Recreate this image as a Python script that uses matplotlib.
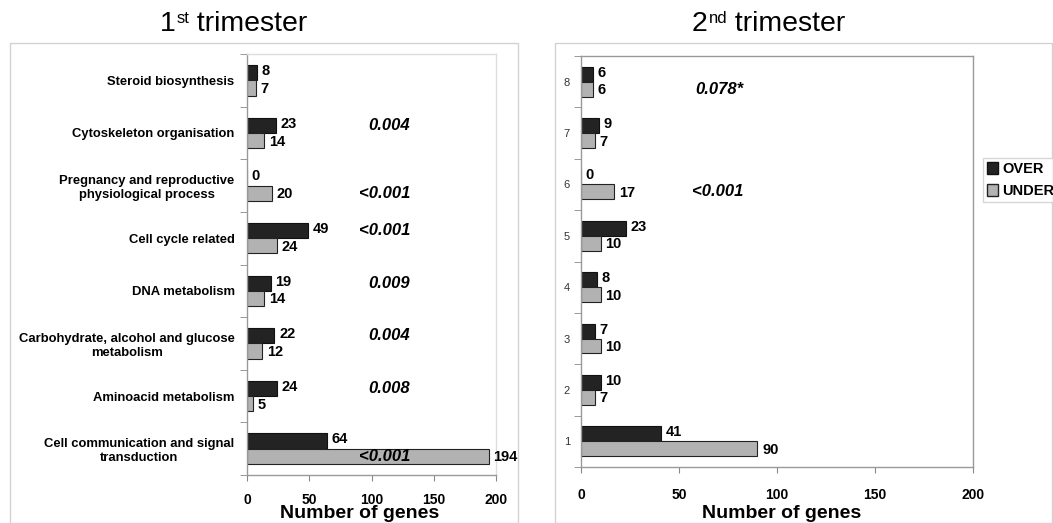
import numpy as np
import matplotlib
matplotlib.use("Agg")
import matplotlib.pyplot as plt
from matplotlib.patches import Rectangle, Patch

# data, listed bottom to top
categories_1 = ["Cell communication and signal\ntransduction",
                "Aminoacid metabolism",
                "Carbohydrate, alcohol and glucose\nmetabolism",
                "DNA metabolism",
                "Cell cycle related",
                "Pregnancy and reproductive\nphysiological process",
                "Cytoskeleton organisation",
                "Steroid biosynthesis"]
over_1 = [64, 24, 22, 19, 49, 0, 23, 8]
under_1 = [194, 5, 12, 14, 24, 20, 14, 7]
pvals_1 = ["<0.001", "0.008", "0.004", "0.009", "<0.001", "<0.001", "0.004", ""]
# which bar row the p-value sits on: 1 = OVER row, 0 = UNDER row
prow_1 = [0, 1, 1, 1, 1, 0, 1, 1]

categories_2 = ["1", "2", "3", "4", "5", "6", "7", "8"]
over_2 = [41, 10, 7, 8, 23, 0, 9, 6]
under_2 = [90, 7, 10, 10, 10, 17, 7, 6]
pvals_2 = ["", "", "", "", "", "<0.001", "", "0.078*"]
prow_2 = [1, 1, 1, 1, 1, 0, 1, 0]

xticks = [0, 50, 100, 150, 200]

W, H = 1053, 523
DARK = "#232323"
LIGHT = "#b2b2b2"
NARROW = ['Liberation Sans Narrow', 'Liberation Sans', 'DejaVu Sans']
SANS = ['Liberation Sans', 'DejaVu Sans']

fig = plt.figure(figsize=(W / 100, H / 100), dpi=100)


def px_rect(x0, y0, x1, y1):
    return [x0 / W, 1 - y1 / H, (x1 - x0) / W, (y1 - y0) / H]


# light outer frames of the two pasted panels
for (x0, y0, x1, y1) in [(10, 43, 518, 523), (555, 43, 1052, 523)]:
    fig.patches.append(Rectangle((x0 / W, 1 - y1 / H), (x1 - x0) / W, (y1 - y0) / H,
                                 transform=fig.transFigure, fill=False,
                                 edgecolor="#d2d2d2", linewidth=1.0))


def draw_panel(ax, over, under, pvals, prow, p_x, labelpad_tick):
    y = np.arange(len(over))
    h = 0.29
    off = 0.145
    ax.barh(y + off, over, height=h, color=DARK, edgecolor="#111111", linewidth=0.8)
    ax.barh(y - off, under, height=h, color=LIGHT, edgecolor="#222222", linewidth=0.8)
    for i in range(len(over)):
        ax.annotate(str(over[i]), (over[i], y[i] + off + 0.03), xytext=(3.5, 0),
                    textcoords="offset points", ha="left", va="center",
                    fontsize=10.5, fontweight="bold", family=NARROW)
        ax.annotate(str(under[i]), (under[i], y[i] - off - 0.02), xytext=(3.5, 0),
                    textcoords="offset points", ha="left", va="center",
                    fontsize=10.5, fontweight="bold", family=NARROW)
        if pvals[i]:
            yy = y[i] + off if prow[i] else y[i] - off
            ax.text(p_x, yy, pvals[i], ha="right", va="center", fontsize=12,
                    fontweight="bold", style="italic", family=SANS)
    ax.set_xlim(0, 200)
    ax.set_ylim(-0.5, len(over) - 0.5)
    ax.set_xticks(xticks)
    ax.set_xticklabels([str(t) for t in xticks], fontsize=10, fontweight="bold", family=NARROW)
    ax.tick_params(axis="x", length=4, pad=labelpad_tick, color="#888888")
    ax.set_yticks(np.arange(-0.5, len(over), 1.0), minor=True)
    ax.tick_params(axis="y", which="minor", length=5, color="#888888")
    ax.tick_params(axis="y", which="major", length=0)
    for s in ax.spines.values():
        s.set_color("#999999")
        s.set_linewidth(1.0)


# left panel
ax1 = fig.add_axes(px_rect(247, 54, 496, 475))
draw_panel(ax1, over_1, under_1, pvals_1, prow_1, 131, 9)
ax1.set_yticks(np.arange(len(categories_1)))
ax1.set_yticklabels(categories_1, fontsize=9.4, fontweight="bold", family=NARROW,
                    multialignment="center")
ax1.tick_params(axis="y", which="major", pad=9)
ax1.spines["top"].set_color("#dddddd")
ax1.spines["right"].set_color("#dddddd")

# right panel
ax2 = fig.add_axes(px_rect(581, 56, 973, 467))
draw_panel(ax2, over_2, under_2, pvals_2, prow_2, 83, 11)
ax2.set_yticks(np.arange(len(categories_2)))
ax2.set_yticklabels(categories_2, fontsize=8, color="#333333", family=NARROW)
ax2.tick_params(axis="y", which="major", pad=8)

# titles with small superscripts, built from pieces
fig.canvas.draw()
renderer = fig.canvas.get_renderer()


def title_with_sup(xc, yc, num, sup, rest):
    t1 = fig.text(0, 0, num, fontsize=20.5, family=SANS, va="baseline")
    t2 = fig.text(0, 0, sup, fontsize=12, family=SANS, va="baseline")
    t3 = fig.text(0, 0, rest, fontsize=20.5, family=SANS, va="baseline")
    w1 = t1.get_window_extent(renderer).width
    w2 = t2.get_window_extent(renderer).width
    w3 = t3.get_window_extent(renderer).width
    x = xc - (w1 + w2 + w3) / 2
    base = H - yc
    t1.set_position((x / W, base / H))
    t2.set_position(((x + w1 + 1) / W, (base + 8) / H))
    t3.set_position(((x + w1 + w2 + 1) / W, base / H))


title_with_sup(233, 31, "1", "st", " trimester")
title_with_sup(768, 31, "2", "nd", " trimester")

fig.text(360 / W, 1 - 514 / H, "Number of genes", ha="center", va="center",
         fontsize=14, fontweight="bold", family=SANS)
fig.text(782 / W, 1 - 514 / H, "Number of genes", ha="center", va="center",
         fontsize=14, fontweight="bold", family=SANS)

# legend
handles = [Patch(facecolor=DARK, edgecolor="#111111"), Patch(facecolor=LIGHT, edgecolor="#222222")]
fig.legend(handles, ["OVER", "UNDER"], loc="upper left",
           bbox_to_anchor=(983 / W, 1 - 158 / H), frameon=True, fancybox=False,
           edgecolor="#cccccc", handlelength=0.7, handleheight=0.9, handletextpad=0.3,
           borderpad=0.3, labelspacing=0.5, borderaxespad=0,
           prop={"family": NARROW, "weight": "bold", "size": 10.5})

fig.savefig("out.png", dpi=100)
